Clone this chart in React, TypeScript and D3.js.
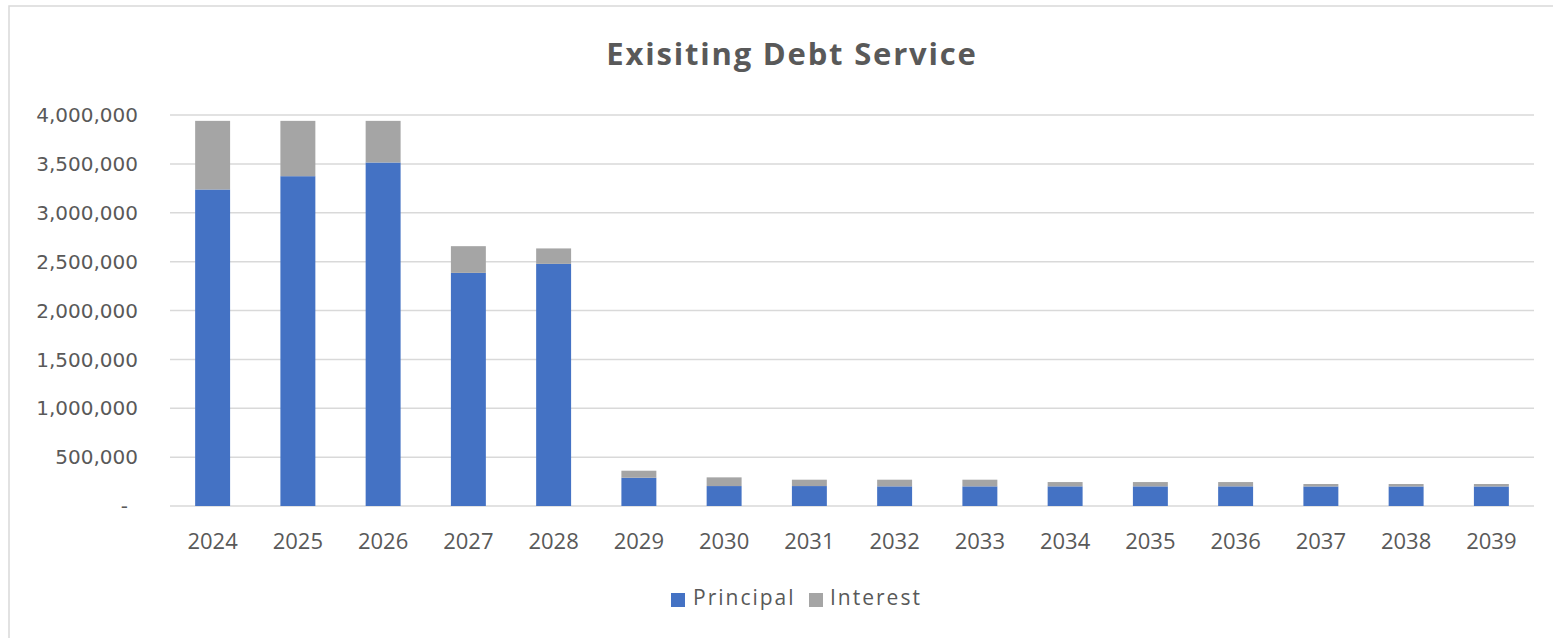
import React from "react";
import * as d3 from "d3";

const years = ["2024","2025","2026","2027","2028","2029","2030","2031","2032","2033","2034","2035","2036","2037","2038","2039"];
const principal = [3238000,3374000,3514000,2385000,2477000,289000,204000,204000,201000,201000,201000,201000,201000,200000,200000,200000];
const interest = [702000,566000,426000,273000,158000,72000,89000,65000,68000,68000,44000,44000,44000,25000,25000,25000];
const yTicks = [0,500000,1000000,1500000,2000000,2500000,3000000,3500000,4000000];
const seriesNames = ["Principal","Interest"];
const seriesColors = ["#4472C4","#A5A5A5"];

const W = 1553, H = 638;
const left = 170, right = 1534, top = 115, bottom = 506;

export default function App() {
  const x = d3.scaleBand().domain(years).range([left, right]).paddingInner(0.59).paddingOuter(0.295);
  const y = d3.scaleLinear().domain([0, 4000000]).range([bottom, top]);
  const rows = years.map((yr, i) => ({ year: yr, Principal: principal[i], Interest: interest[i] }));
  const stacked = d3.stack<any>().keys(seriesNames)(rows);
  const fmt = d3.format(",");
  const font = "'Open Sans', sans-serif";
  const textColor = "#595959";
  return (
    <svg width={W} height={H} style={{ position: "absolute", left: 0, top: 0, background: "#fff" }}>
      <rect x={0} y={0} width={W} height={H} fill="#fff" />
      <rect x={9} y={6} width={W + 20} height={H + 20} fill="#fff" stroke="#d9d9d9" strokeWidth={1.5} />
      <text x={792} y={65} textAnchor="middle" fontFamily={font} fontWeight="bold" fontSize={31} letterSpacing={1.8} fill={textColor}>
        Exisiting Debt Service
      </text>
      {yTicks.map((t) => (
        <g key={t}>
          <line x1={left} x2={right} y1={y(t)} y2={y(t)} stroke="#d9d9d9" strokeWidth={1.5} />
          <text
            x={t === 0 ? 128 : 138}
            y={y(t)}
            dy="0.36em"
            textAnchor="end"
            fontFamily="'DejaVu Sans', sans-serif"
            fontSize={20}
            fill={textColor}
          >
            {t === 0 ? "-" : fmt(t)}
          </text>
        </g>
      ))}
      {stacked.map((s, si) => (
        <g key={s.key} fill={seriesColors[si]}>
          {s.map((d: any, i: number) => (
            <rect
              key={i}
              x={x(years[i])}
              width={x.bandwidth()}
              y={y(d[1])}
              height={y(d[0]) - y(d[1])}
            />
          ))}
        </g>
      ))}
      {years.map((yr) => (
        <text
          key={yr}
          x={(x(yr) as number) + x.bandwidth() / 2}
          y={549}
          textAnchor="middle"
          fontFamily={font}
          fontSize={22}
          fill={textColor}
        >
          {yr}
        </text>
      ))}
      <g>
        <rect x={671} y={593} width={14} height={14} fill={seriesColors[0]} />
        <text x={693} y={605} fontFamily={font} fontSize={21} letterSpacing={2} fill={textColor}>
          {seriesNames[0]}
        </text>
        <rect x={809} y={593} width={14} height={14} fill={seriesColors[1]} />
        <text x={830} y={605} fontFamily={font} fontSize={21} letterSpacing={2} fill={textColor}>
          {seriesNames[1]}
        </text>
      </g>
    </svg>
  );
}
